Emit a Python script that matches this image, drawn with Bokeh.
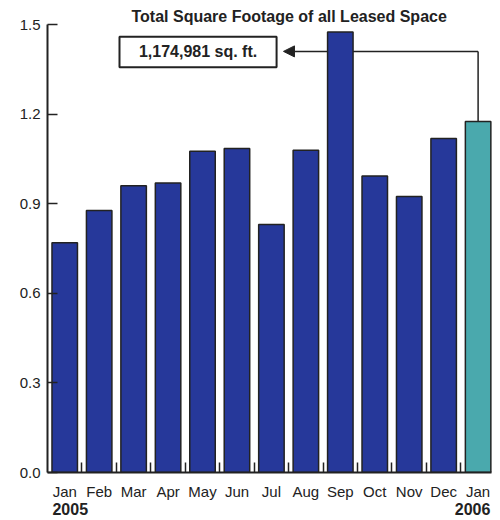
from bokeh.plotting import figure
from bokeh.models import Range1d, FixedTicker, Label, BoxAnnotation, Arrow, NormalHead, NumeralTickFormatter, LinearAxis
from bokeh.embed import file_html
from bokeh.resources import INLINE

# ---- data ----
months = ["Jan", "Feb", "Mar", "Apr", "May", "Jun", "Jul", "Aug", "Sep", "Oct", "Nov", "Dec", "Jan"]
values = [0.769, 0.877, 0.960, 0.969, 1.076, 1.085, 0.830, 1.079, 1.475, 0.993, 0.924, 1.118, 1.175]
years = ["2005", "2006"]
y_ticks = [0.0, 0.3, 0.6, 0.9, 1.2, 1.5]
title_text = "Total Square Footage of all Leased Space"
latest_sqft = 1174981

FONT = "Liberation Sans"
INK = "#222222"
BLUE = "#26389a"
TEAL = "#4aa9ad"

idx = list(range(len(months)))
colors = [BLUE] * (len(months) - 1) + [TEAL]
bar_w = 0.74

p = figure(width=500, height=520, x_range=Range1d(-0.5, 12.65), y_range=Range1d(0, 1.5),
           output_backend="svg", toolbar_location=None,
           min_border_left=47, min_border_right=0, min_border_top=24, min_border_bottom=48)
p.outline_line_color = None
p.xgrid.visible = False
p.ygrid.visible = False
p.background_fill_color = "white"
p.border_fill_color = "white"

# title
p.title.text = title_text
p.title.align = "left"
p.title.offset = 84
p.title.standoff = 0
p.title.text_font = FONT
p.title.text_font_style = "bold"
p.title.text_font_size = "16px"
p.title.text_color = INK

# y axis
ya = p.yaxis[0]
ya.ticker = FixedTicker(ticks=y_ticks, minor_ticks=[])
ya.formatter = NumeralTickFormatter(format="0.0")
ya.major_tick_in = 10
ya.major_tick_out = 0
ya.minor_tick_in = 0
ya.minor_tick_out = 0
ya.axis_line_width = 2
ya.axis_line_color = INK
ya.major_tick_line_width = 1.5
ya.major_tick_line_color = INK
ya.major_label_standoff = 7
ya.major_label_text_font = FONT
ya.major_label_text_font_size = "15px"
ya.major_label_text_color = INK

# x axis (months)
xa = p.xaxis[0]
xa.bounds = (-0.5, 12.4)
xa.ticker = FixedTicker(ticks=idx, minor_ticks=[i + 0.5 for i in idx[:-1]])
xa.major_label_overrides = {i: m for i, m in zip(idx, months)}
xa.major_tick_in = 0
xa.major_tick_out = 0
xa.minor_tick_in = 10
xa.minor_tick_out = 0
xa.minor_tick_line_width = 1.5
xa.minor_tick_line_color = INK
xa.axis_line_width = 2
xa.axis_line_color = INK
xa.major_label_standoff = 10
xa.major_label_text_font = FONT
xa.major_label_text_font_size = "15px"
xa.major_label_text_color = INK

# second x axis (years)
year_pos = [idx[0] - bar_w / 2 + 0.53, idx[-1] + bar_w / 2 - 0.53]
ya2 = LinearAxis(ticker=FixedTicker(ticks=year_pos, minor_ticks=[]),
                 major_label_overrides={year_pos[0]: years[0], year_pos[1]: years[1]},
                 axis_line_color=None, major_tick_line_color=None, minor_tick_line_color=None,
                 major_tick_in=0, major_tick_out=0, major_label_standoff=0,
                 major_label_text_font=FONT, major_label_text_font_style="bold",
                 major_label_text_font_size="16px", major_label_text_color=INK)
p.add_layout(ya2, "below")

# connector line (behind bars)
top_y = 1.41
last = idx[-1]
p.segment(x0=[last], y0=[values[-1]], x1=[last], y1=[top_y], line_color=INK, line_width=1.5)
p.add_layout(Arrow(end=NormalHead(size=11, fill_color=INK, line_color=INK),
                   x_start=last, y_start=top_y, x_end=6.35, y_end=top_y,
                   line_color=INK, line_width=1.5, level="underlay"))

# bars
p.vbar(x=idx, top=values, width=bar_w, fill_color=colors, line_color=INK, line_width=1.5)

# annotation box
p.add_layout(BoxAnnotation(left=1.59, right=6.15, top=1.459, bottom=1.357,
                           fill_color="white", fill_alpha=1.0, line_color=INK, line_width=2,
                           line_alpha=1.0))
p.add_layout(Label(x=(1.59 + 6.15) / 2, y=top_y, text=f"{latest_sqft:,} sq. ft.",
                   text_align="center", text_baseline="middle", text_font=FONT,
                   text_font_style="bold", text_font_size="16px", text_color=INK))

open("out.html", "w").write(file_html(p, INLINE))
